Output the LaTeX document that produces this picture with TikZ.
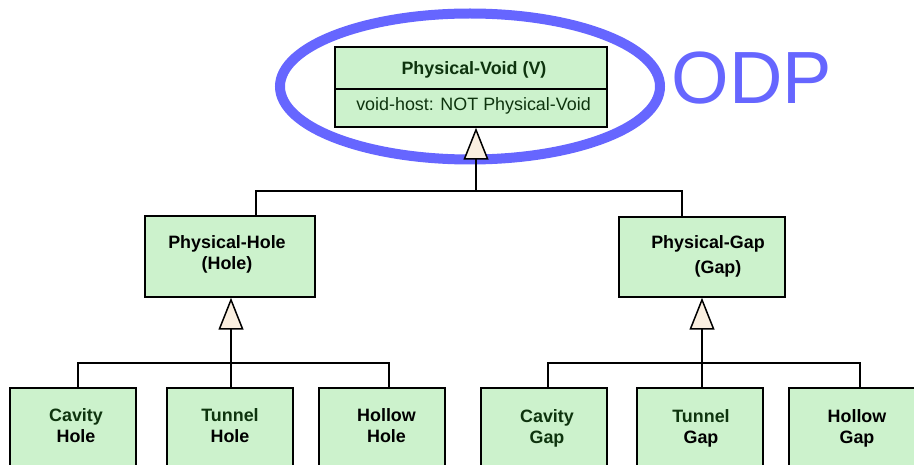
\documentclass[tikz,border=0pt]{standalone}
\usepackage{fontspec}
\setmainfont{Liberation Sans}
\usetikzlibrary{arrows.meta}
\definecolor{boxfill}{RGB}{204,242,204}
\definecolor{trifill}{RGB}{250,239,224}
\definecolor{odpblue}{RGB}{102,102,255}
\definecolor{dkgreen}{RGB}{14,52,14}
\tikzset{
  box/.style={draw=black, line width=1.5pt, fill=boxfill, rectangle, inner sep=0pt},
  lbl/.style={font=\bfseries\fontsize{17.9}{21}\selectfont, align=center, inner sep=0pt},
  attr/.style={font=\fontsize{17.9}{21}\selectfont, inner sep=0pt, text=dkgreen},
  conn/.style={draw=black, line width=1.5pt},
  gen/.style={conn, -{Triangle[length=32pt, width=25pt, fill=trifill]}}
}
\begin{document}
\begin{tikzpicture}[x=1pt, y=-1pt]
\useasboundingbox (0,0) rectangle (914,465);
\clip (0,0) rectangle (914,465);

% highlight ring around the root class
\draw[odpblue, line width=10pt] (470,86.5) ellipse [x radius=190, y radius=73];
\node[anchor=base, text=odpblue, font=\fontsize{74}{80}\selectfont, inner sep=0pt] (odp) at (752,104) {ODP};

% root class with its attribute compartment
\node[box, minimum width=272pt, minimum height=42pt] (voidTitle) at (471,68) {};
\node[box, minimum width=272pt, minimum height=38pt] (voidAttr) at (471,108) {};
\node[lbl, text=dkgreen] (voidTitleT) at (474,70) {Physical-Void (V)};
\node[attr] (voidAttrT) at (473.5,106) {void-host: NOT Physical-Void};

% second level
\node[box, minimum width=170pt, minimum height=81pt] (hole) at (230,256.5) {};
\node[lbl] (holeT) at (227,254) {Physical-Hole\\(Hole)};
\node[box, minimum width=166pt, minimum height=80pt] (gap) at (702,257) {};
\node[lbl] (gapT) at (708,256.5) {Physical-Gap\\[4pt]\hspace*{20pt}(Gap)};

% leaves
\foreach \nm/\cx in {cavHole/73, tunHole/230, holHole/382, cavGap/544, tunGap/700, holGap/852}
  \node[box, minimum width=126pt, minimum height=100pt] (\nm) at (\cx,438) {};
\node[lbl] (cavHoleT) at (76,425.5) {\textcolor{dkgreen}{Cavity}\\Hole};
\node[lbl] (tunHoleT) at (230,425.5) {\textcolor{dkgreen}{Tunnel}\\Hole};
\node[lbl] (holHoleT) at (386.5,425.5) {Hollow\\Hole};
\node[lbl, text=dkgreen] (cavGapT) at (547,428) {Cavity\\Gap};
\node[lbl] (tunGapT) at (701,428) {\textcolor{dkgreen}{Tunnel}\\Gap};
\node[lbl] (holGapT) at (857,428) {Hollow\\Gap};

% junction points of the generalisation trees
\coordinate (j1) at (476,191);
\coordinate (h1) at (256,191);
\coordinate (g1) at (682,191);
\coordinate (j2) at (231,363);
\coordinate (a1) at (78,363);
\coordinate (a3) at (389,363);
\coordinate (j3) at (702,363);
\coordinate (c1) at (548,363);
\coordinate (c3) at (860,363);

% Physical-Void generalisation
\draw[conn] (h1 |- hole.north) -- (h1) -- (g1) -- (g1 |- gap.north);
\draw[gen] (j1) -- (j1 |- voidAttr.south);

% Physical-Hole generalisation
\draw[conn] (a1 |- cavHole.north) -- (a1) -- (a3) -- (a3 |- holHole.north);
\draw[conn] (j2 |- tunHole.north) -- (j2);
\draw[gen] (j2) -- (j2 |- hole.south);

% Physical-Gap generalisation
\draw[conn] (c1 |- cavGap.north) -- (c1) -- (c3) -- (c3 |- holGap.north);
\draw[conn] (j3 |- tunGap.north) -- (j3);
\draw[gen] (j3) -- (j3 |- gap.south);
\end{tikzpicture}
\end{document}
